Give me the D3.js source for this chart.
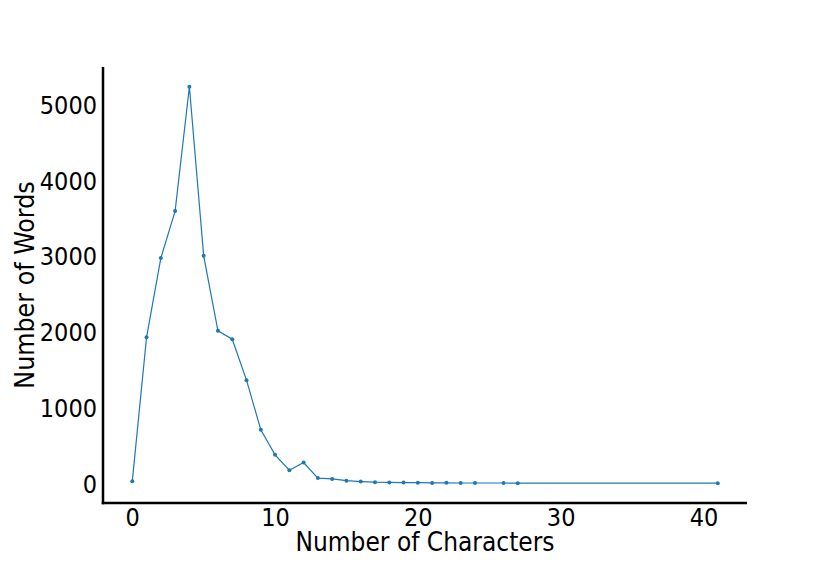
<!DOCTYPE html>
<html>
<head>
	<title>D3</title>
	<script src="https://d3js.org/d3.v7.min.js"></script>
	<style>
		body { margin: 0; background: #fff; }
		.tick text, .label {
		  font-family: "DejaVu Sans Condensed", "DejaVu Sans", sans-serif;
		  fill: #000;
		}
	</style>
</head>
<body>
<script>

// word length (characters) vs how many words
var chars = [0, 1, 2, 3, 4, 5, 6, 7, 8, 9, 10, 11, 12, 13, 14, 15, 16, 17, 18, 19, 20, 21, 22, 23, 24, 26, 27, 41];
var words = [25, 1925, 2970, 3590, 5230, 3000, 2010, 1900, 1360, 705, 375, 172, 273, 68, 57, 33, 22, 14, 11, 9, 7, 4, 5, 3, 3, 3, 1, 1];
var xTicks = [0, 10, 20, 30, 40];
var yTicks = [0, 1000, 2000, 3000, 4000, 5000];

var width = 830,
    height = 566,
    mLeft = 103, mRight = 747, mTop = 67, mBottom = 503;

var svg = d3.select("body").append("svg")
    .attr("width", width)
    .attr("height", height);

var x = d3.scaleLinear()
    .domain([-2.05, 43.05])
    .range([mLeft, mRight]);

var y = d3.scaleLinear()
    .domain([-261, 5491])
    .range([mBottom, mTop]);

// axes, no tick marks, just labels
var xAxis = svg.append("g")
    .attr("transform", "translate(0," + mBottom + ")")
    .call(d3.axisBottom(x).tickValues(xTicks).tickSize(0).tickPadding(5));
xAxis.selectAll("text").style("font-size", "25px").attr("dy", "0.71em");

var yAxis = svg.append("g")
    .attr("transform", "translate(" + mLeft + ",0)")
    .call(d3.axisLeft(y).tickValues(yTicks).tickFormat(d3.format("d")).tickSize(0).tickPadding(6));
yAxis.selectAll("text").style("font-size", "25px").attr("dy", "0.36em");

svg.selectAll(".domain").remove();

// only left and bottom spines
svg.append("line")
    .attr("x1", mLeft).attr("x2", mLeft)
    .attr("y1", mTop).attr("y2", mBottom + 1.25)
    .attr("stroke", "#000").attr("stroke-width", 2.5);
svg.append("line")
    .attr("x1", mLeft - 1.25).attr("x2", mRight)
    .attr("y1", mBottom).attr("y2", mBottom)
    .attr("stroke", "#000").attr("stroke-width", 2.5);

var line = d3.line()
    .x(function(d, i) { return x(chars[i]); })
    .y(function(d) { return y(d); });

svg.append("path")
    .datum(words)
    .attr("d", line)
    .attr("fill", "none")
    .attr("stroke", "#1f77b4")
    .attr("stroke-width", 1.2);

svg.selectAll(".pt")
    .data(words)
  .enter().append("circle")
    .attr("class", "pt")
    .attr("cx", function(d, i) { return x(chars[i]); })
    .attr("cy", function(d) { return y(d); })
    .attr("r", 2)
    .attr("fill", "#1f77b4");

svg.append("text")
    .attr("class", "label")
    .attr("x", (mLeft + mRight) / 2)
    .attr("y", 551)
    .attr("text-anchor", "middle")
    .style("font-size", "26px")
    .text("Number of Characters");

svg.append("text")
    .attr("class", "label")
    .attr("transform", "translate(34," + (mTop + mBottom) / 2 + ") rotate(-90)")
    .attr("text-anchor", "middle")
    .style("font-size", "26.5px")
    .text("Number of Words");

</script>
</body>
</html>
